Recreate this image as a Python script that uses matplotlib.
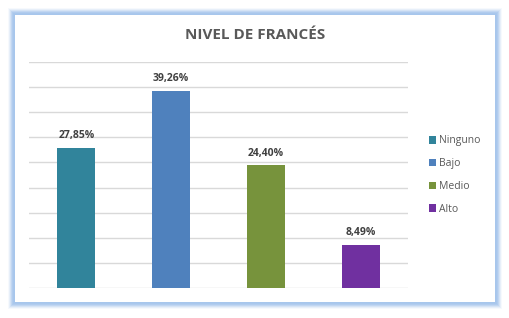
import matplotlib.pyplot as plt
from matplotlib.patches import Rectangle

categorias = ['Ninguno', 'Bajo', 'Medio', 'Alto']
porcentajes = [27.85, 39.26, 24.40, 8.49]
colores = ['#31849B', '#4F81BD', '#77933C', '#7030A0']
titulo = 'NIVEL DE FRANCÉS'

plt.rcParams['font.family'] = ['Open Sans', 'DejaVu Sans']

fig = plt.figure(figsize=(5.1, 3.18), dpi=100)
W, H = 510.0, 318.0

# marco azul con brillo
for i, a in enumerate([0.1, 0.18, 0.28, 0.42, 0.58, 0.75, 0.9]):
    d = 7 - i
    fig.patches.append(Rectangle(((15 - d) / W, (H - 302 - d) / H), (480 + 2 * d) / W, (287 + 2 * d) / H,
                                 transform=fig.transFigure, facecolor='#A7C6EC', edgecolor='none',
                                 alpha=a, zorder=0))
fig.patches.append(Rectangle((15 / W, (H - 302) / H), 480 / W, 287 / H, transform=fig.transFigure,
                             facecolor='white', edgecolor='none', zorder=1))

ax = fig.add_axes([29 / W, (H - 288) / H, 379 / W, 226 / H])
ax.set_zorder(5)
ax.set_facecolor('none')
x = range(len(categorias))
barras = ax.bar(x, porcentajes, width=0.4, color=colores, zorder=3)
ax.set_xlim(-0.5, 3.5)
ax.set_ylim(0, 45)
ax.set_yticks(range(0, 46, 5))
ax.yaxis.grid(True, color='#D9D9D9', linewidth=1)
ax.set_axisbelow(True)
ax.tick_params(left=False, bottom=False, labelleft=False, labelbottom=False)
for s in ax.spines.values():
    s.set_visible(False)

for b, v in zip(barras, porcentajes):
    ax.annotate(f'{v:.2f}%'.replace('.', ','), (b.get_x() + b.get_width() / 2, v),
                xytext=(0, 5), textcoords='offset points', ha='center', va='bottom',
                fontsize=7.5, fontweight='bold', color='#404040')

fig.text(255 / W, 1 - 35 / H, titulo, ha='center', va='center', fontsize=11,
         fontweight='bold', color='#595959', zorder=6)

leg = ax.legend(barras, categorias, loc='center left', bbox_to_anchor=(400 / 379, 0.5),
                frameon=False, fontsize=7.5, handlelength=0.7, handleheight=0.7,
                handletextpad=0.3, labelspacing=1.12, borderpad=0, borderaxespad=0)
for t in leg.get_texts():
    t.set_color('#595959')

fig.savefig('out.png', dpi=100)
